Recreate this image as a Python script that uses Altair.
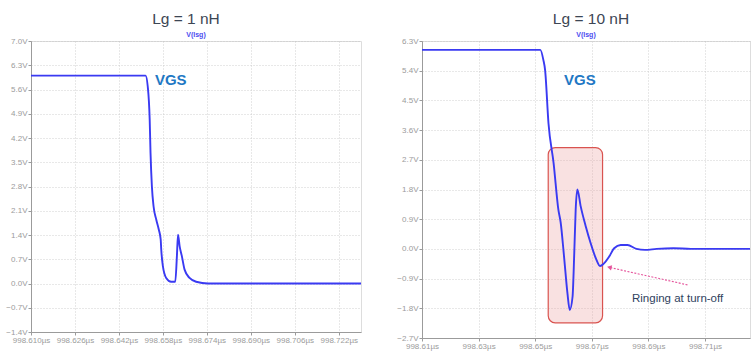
import altair as alt
import pandas as pd

# Gate-source voltage at turn-off, Lg = 1 nH (time in µs, voltage in V)
t_1nh = [998.610, 998.6517, 998.6525, 998.6532, 998.6535, 998.6540, 998.6546,
         998.6556, 998.6565, 998.6572, 998.6574, 998.6580, 998.6592, 998.6610,
         998.6625, 998.6631, 998.6635, 998.6641, 998.6649, 998.6659, 998.6677,
         998.6701, 998.6744, 998.7301]
v_1nh = [6.00, 6.00, 5.68, 4.72, 3.77, 2.80, 2.23,
         1.84, 1.56, 1.27, 0.98, 0.50, 0.16, 0.05,
         0.05, 0.79, 1.41, 1.07, 0.79, 0.40, 0.16,
         0.05, 0.00, 0.00]

# Gate-source voltage at turn-off, Lg = 10 nH
t_10nh = [998.610, 998.6518, 998.6529, 998.6535, 998.6547, 998.6565, 998.6582,
          998.6590, 998.6602, 998.6614, 998.6622, 998.6632, 998.6638, 998.6643,
          998.6649, 998.6661, 998.6679, 998.6696, 998.6714, 998.6729, 998.6743,
          998.6761, 998.6779, 998.6802, 998.6826, 998.6858, 998.6888,
          998.6929, 998.6988, 998.7050, 998.7259]
v_10nh = [6.03, 6.03, 5.72, 5.42, 3.80, 2.60, 1.18,
          0.80, -0.24, -1.35, -1.85, -1.45, -0.13, 1.18,
          1.80, 1.28, 0.67, 0.17, -0.28, -0.52, -0.44,
          -0.24, 0.02, 0.12, 0.12, 0.00, -0.03,
          0.00, 0.02, 0.00, 0.00]

# Highlight box around the ringing, and the annotation arrow
ring_box_t = [998.6546, 998.6738]
ring_box_v = [3.07, -2.24]
arrow_tail = (998.7038, -1.09)
arrow_head = (998.6762, -0.56)
note_pos = (998.6842, -1.52)
note_text = "Ringing at turn-off"

x_ticks_1 = [round(998.610 + 0.016 * k, 3) for k in range(8)]
y_ticks_1 = [round(-1.4 + 0.7 * k, 1) for k in range(13)]
x_ticks_10 = [round(998.61 + 0.02 * k, 2) for k in range(6)]
y_ticks_10 = [round(-2.7 + 0.9 * k, 1) for k in range(11)]

FONT = "Liberation Sans"
LINE_BLUE = "#3a3af2"
LABEL_BLUE = "#1f78c4"
GRAY = "#9b9b9b"


def axis(values, fmt, unit):
    return alt.Axis(
        values=values, tickCount=len(values) + 2,
        labelExpr=f"format(datum.value, '{fmt}') + '{unit}'",
        grid=True, gridColor="#c4c4c4", gridDash=[1, 2], gridWidth=0.8,
        domainColor=GRAY, tickColor=GRAY, tickSize=3, labelPadding=1,
        labelColor=GRAY, labelFont=FONT, labelFontSize=8,
        labelOverlap=False, labelFlush=False, title=None,
    )


def panel(t, v, xdom, xticks, xfmt, ydom, yticks, w, h, title, title_dx, vgs):
    df = pd.DataFrame({"t": t, "v": v})
    xs = alt.Scale(domain=xdom, nice=False, zero=False)
    ys = alt.Scale(domain=ydom, nice=False, zero=False)
    x = alt.X("t:Q", scale=xs, axis=axis(xticks, xfmt, "µs"))
    y = alt.Y("v:Q", scale=ys, axis=axis(yticks, ".1f", "V"))
    line = alt.Chart(df).mark_line(
        color=LINE_BLUE, strokeWidth=1.9, interpolate="monotone", clip=True
    ).encode(x=x, y=y)

    lab = pd.DataFrame({"t": [vgs[0]], "v": [vgs[1]], "s": ["VGS"]})
    vgs_text = alt.Chart(lab).mark_text(
        align="left", baseline="middle", font=FONT, fontSize=15,
        fontWeight="bold", color=LABEL_BLUE
    ).encode(x="t:Q", y="v:Q", text="s:N")

    head = pd.DataFrame({"s": [title], "n": ["V(lsg)"]})
    title_text = alt.Chart(head).mark_text(
        align="center", baseline="middle", font=FONT, fontSize=15.5,
        color="#3d4654"
    ).encode(x=alt.value(w / 2 + title_dx), y=alt.value(-22), text="s:N")
    trace_name = alt.Chart(head).mark_text(
        align="center", baseline="middle", font=FONT, fontSize=7,
        fontWeight="bold", color="#4b4bf0"
    ).encode(x=alt.value(w / 2), y=alt.value(-6), text="n:N")

    return [line, vgs_text, title_text, trace_name], xs, ys


left_layers, _, _ = panel(
    t_1nh, v_1nh, [998.610, 998.7301], x_ticks_1, ".3f", [-1.4, 7.0], y_ticks_1,
    330, 291, "Lg = 1 nH", -10, (998.6551, 5.88))
left = alt.layer(*left_layers).properties(width=330, height=291)

right_layers, xs_r, ys_r = panel(
    t_10nh, v_10nh, [998.61, 998.7259], x_ticks_10, ".2f", [-2.7, 6.3], y_ticks_10,
    328, 297, "Lg = 10 nH", 5, (998.6602, 5.12))

box = pd.DataFrame({"t1": [ring_box_t[0]], "t2": [ring_box_t[1]],
                    "v1": [ring_box_v[0]], "v2": [ring_box_v[1]]})
ring = alt.Chart(box).mark_rect(
    cornerRadius=7, fill="#ec9a9a", fillOpacity=0.3, stroke="#d9534f",
    strokeWidth=1.2
).encode(x=alt.X("t1:Q", scale=xs_r), x2="t2:Q",
         y=alt.Y("v1:Q", scale=ys_r), y2="v2:Q")

arr = pd.DataFrame({"t1": [arrow_tail[0]], "v1": [arrow_tail[1]],
                    "t2": [arrow_head[0]], "v2": [arrow_head[1]]})
arrow_line = alt.Chart(arr).mark_rule(
    color="#e5559c", strokeWidth=1.1, strokeDash=[2, 1.5]
).encode(x="t1:Q", y="v1:Q", x2="t2:Q", y2="v2:Q")
arrow_tip = alt.Chart(arr).mark_point(
    shape="triangle-up", filled=True, color="#e5559c", size=28, angle=283,
    opacity=1
).encode(x="t2:Q", y="v2:Q")

note = pd.DataFrame({"t": [note_pos[0]], "v": [note_pos[1]], "s": [note_text]})
note_label = alt.Chart(note).mark_text(
    align="left", baseline="middle", font=FONT, fontSize=11.5, color="#2f4260"
).encode(x="t:Q", y="v:Q", text="s:N")

right = alt.layer(
    ring, right_layers[0], arrow_line, arrow_tip, note_label, *right_layers[1:]
).properties(width=328, height=297)

chart = alt.hconcat(left, right, spacing=61, bounds="flush").properties(
    padding={"left": 5, "top": 11, "right": 0, "bottom": 0}
).configure_view(stroke="#a8a8a8", strokeWidth=1).configure(background="white")

chart.save("out.html", embed_options={"renderer": "svg", "actions": False})
